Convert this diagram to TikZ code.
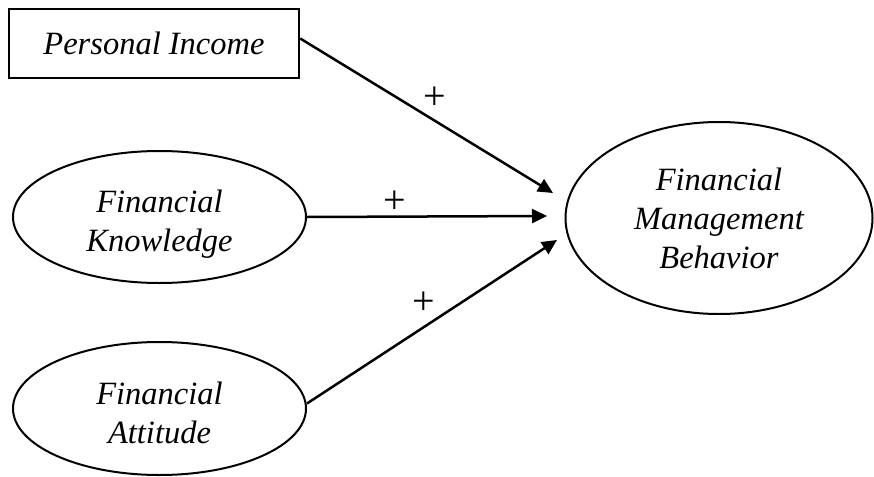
\documentclass[tikz,border=0pt]{standalone}
\usepackage{fontspec}
\setmainfont{Liberation Serif}
\usetikzlibrary{arrows.meta,shapes.geometric}
\begin{document}
\begin{tikzpicture}[x=1pt,y=-1pt,
  every node/.style={font=\fontsize{32.5}{39}\selectfont\itshape, align=center},
  boxnode/.style={draw, line width=2.5pt, rectangle, minimum width=290pt, minimum height=69pt, inner sep=0pt},
  ellnode/.style={draw, line width=2pt, ellipse, inner sep=0pt},
  conn/.style={line width=2.5pt, -{Triangle[length=15pt,width=14pt]}},
  plus/.style={font=\fontsize{40}{40}\selectfont\upshape, inner sep=0pt}
]
\useasboundingbox (0,0) rectangle (874,476);
\node[boxnode] (pi) at (154,43.5) {Personal Income};
\node[ellnode, minimum width=293pt, minimum height=132pt] (fk) at (159.5,217) {\rule{0pt}{37pt}Financial\\Knowledge};
\node[ellnode, minimum width=293pt, minimum height=133pt] (fa) at (159.5,408.5) {\rule{0pt}{31pt}Financial\\Attitude};
\node[ellnode, minimum width=307pt, minimum height=192pt] (fmb) at (719,218) {Financial\\Management\\Behavior};
\coordinate (t1) at (553,193);
\coordinate (t2) at (547,216);
\coordinate (t3) at (557,240);
\draw[conn] ([yshift=5pt]pi.east) -- (t1);
\draw[conn] (fk.east) -- (t2);
\draw[conn] ([yshift=5pt]fa.east) -- (t3);
\node[plus] (p1) at (435,98) {+};
\node[plus] (p2) at (395,202) {+};
\node[plus] (p3) at (424,303) {+};
\end{tikzpicture}
\end{document}
